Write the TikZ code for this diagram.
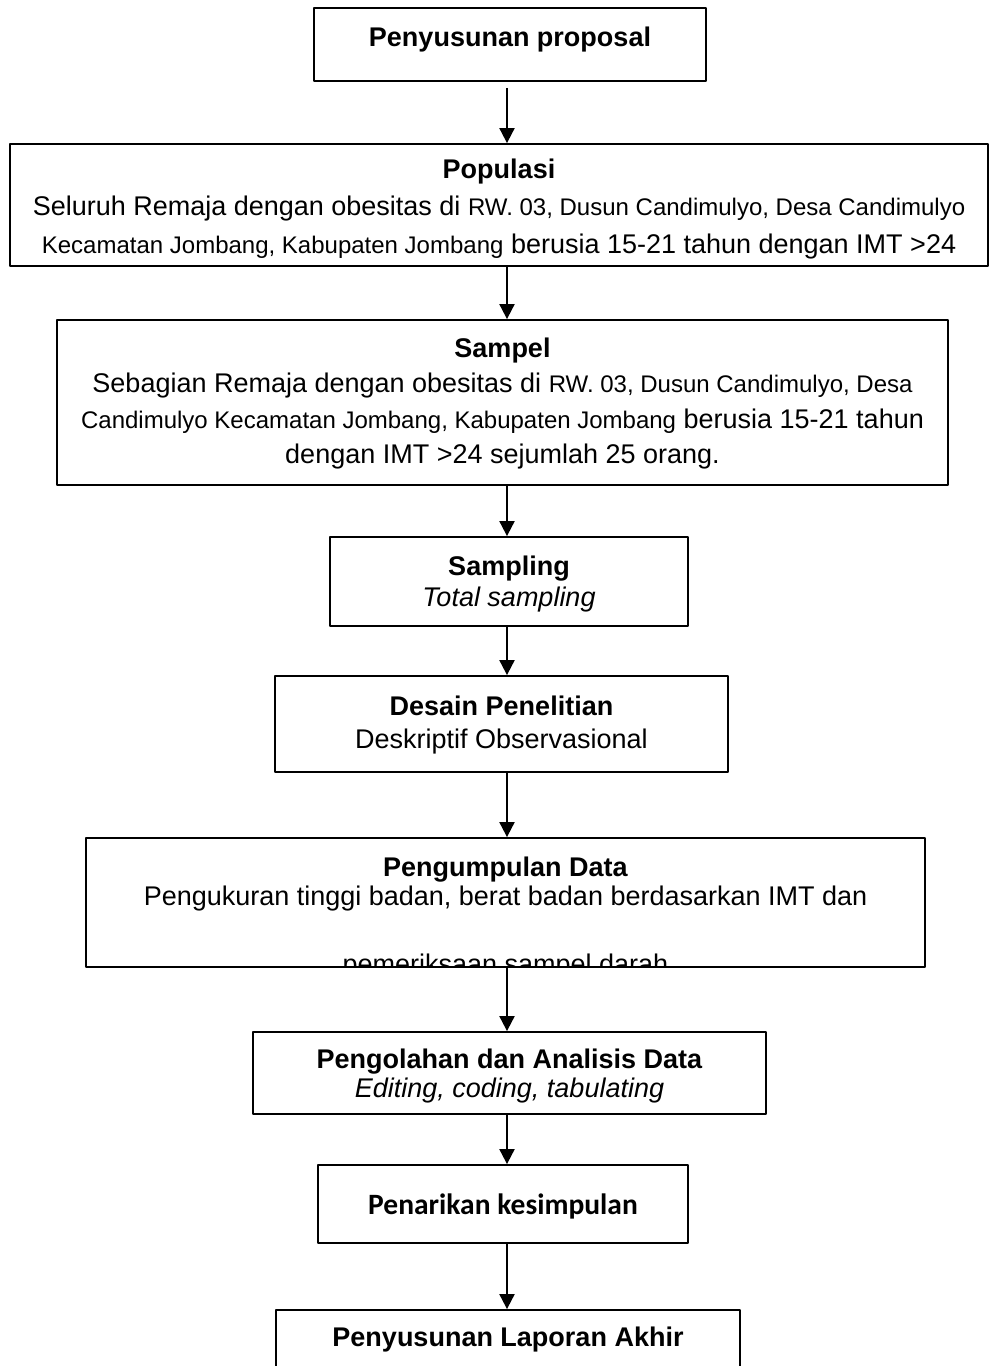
\documentclass[tikz,border=0pt]{standalone}
\usepackage{fontspec}
\setmainfont{Liberation Sans}
\newfontfamily\calibri{Carlito}
\usetikzlibrary{positioning,arrows.meta}
\newcommand\kecil{\fontsize{24}{27}\selectfont}
\newcommand\tegak{\rule{0pt}{21pt}}
\tikzset{
	kotak/.style={draw,line width=1.8pt,inner sep=0pt},
	teks/.style={inner sep=0pt,align=center,font=\fontsize{27}{#1}\selectfont},
	teks/.default=36,
	panah/.style={-{Triangle[length=15pt,width=15pt]},line width=1.9pt}
}
\begin{document}
\begin{tikzpicture}[x=1pt,y=-1pt,line join=round]
	\useasboundingbox (0,0) rectangle (990,1366);
	\coordinate (sumbu) at (507,0);
	% kotak
	\node[kotak,minimum width=392,minimum height=73] (proposal) at (510,44.5) {};
	\node[kotak,minimum width=978,minimum height=122] (populasi) at (499,205) {};
	\node[kotak,minimum width=891,minimum height=165] (sampel) at (502.5,402.5) {};
	\node[kotak,minimum width=358,minimum height=89] (sampling) at (509,581.5) {};
	\node[kotak,minimum width=453,minimum height=96] (desain) at (501.5,724) {};
	\node[kotak,minimum width=839,minimum height=129] (kumpul) at (505.5,902.5) {};
	\node[kotak,minimum width=513,minimum height=82] (olah) at (509.5,1073) {};
	\node[kotak,minimum width=370,minimum height=78] (simpul) at (503,1204) {};
	\node[kotak,minimum width=464,minimum height=62] (laporan) at (508,1341) {};
	% teks
	\node[teks,below=18pt of proposal.north] (tproposal) {\tegak\textbf{Penyusunan proposal}};
	\node[teks=37.5,below=14pt of populasi.north] (tpopulasi) {\tegak\textbf{Populasi}\\
		Seluruh Remaja dengan obesitas di {\kecil RW. 03, Dusun Candimulyo, Desa Candimulyo}\\
		{\kecil Kecamatan Jombang, Kabupaten Jombang} berusia 15-21 tahun dengan IMT >24};
	\node[teks=35.5,below=17pt of sampel.north] (tsampel) {\tegak\textbf{Sampel}\\
		Sebagian Remaja dengan obesitas di {\kecil RW. 03, Dusun Candimulyo, Desa}\\
		{\kecil Candimulyo Kecamatan Jombang, Kabupaten Jombang} berusia 15-21 tahun\\
		dengan IMT >24 sejumlah 25 orang.};
	\node[teks=31,below=18pt of sampling.north] (tsampling) {\tegak\textbf{Sampling}\\ \textit{Total sampling}};
	\node[teks=33,below=19pt of desain.north] (tdesain) {\tegak\textbf{Desain Penelitian}\\ Deskriptif Observasional};
	\begin{scope}
		\clip (kumpul.north west) rectangle (kumpul.south east);
		\node[teks=29,below=18pt of kumpul.north] (tkumpul) {\tegak\textbf{Pengumpulan Data}\\
			Pengukuran tinggi badan, berat badan berdasarkan IMT dan\\[39pt]
			pemeriksaan sampel darah};
	\end{scope}
	\node[teks=29,below=16pt of olah.north] (tolah) {\tegak\textbf{Pengolahan dan Analisis Data}\\ \textit{Editing, coding, tabulating}};
	\node[teks,font=\calibri\bfseries\fontsize{29.5}{34}\selectfont,below=29pt of simpul.north] (tsimpul) {\tegak Penarikan kesimpulan};
	\node[teks,below=16pt of laporan.north] (tlaporan) {\tegak\textbf{Penyusunan Laporan Akhir}};
	% panah
	\draw[panah,shorten <=6pt] (proposal.south -| sumbu) -- (populasi.north -| sumbu);
	\foreach \a/\b in {populasi/sampel,sampel/sampling,sampling/desain,desain/kumpul,kumpul/olah,olah/simpul,simpul/laporan}
		\draw[panah] (\a.south -| sumbu) -- (\b.north -| sumbu);
\end{tikzpicture}
\end{document}
